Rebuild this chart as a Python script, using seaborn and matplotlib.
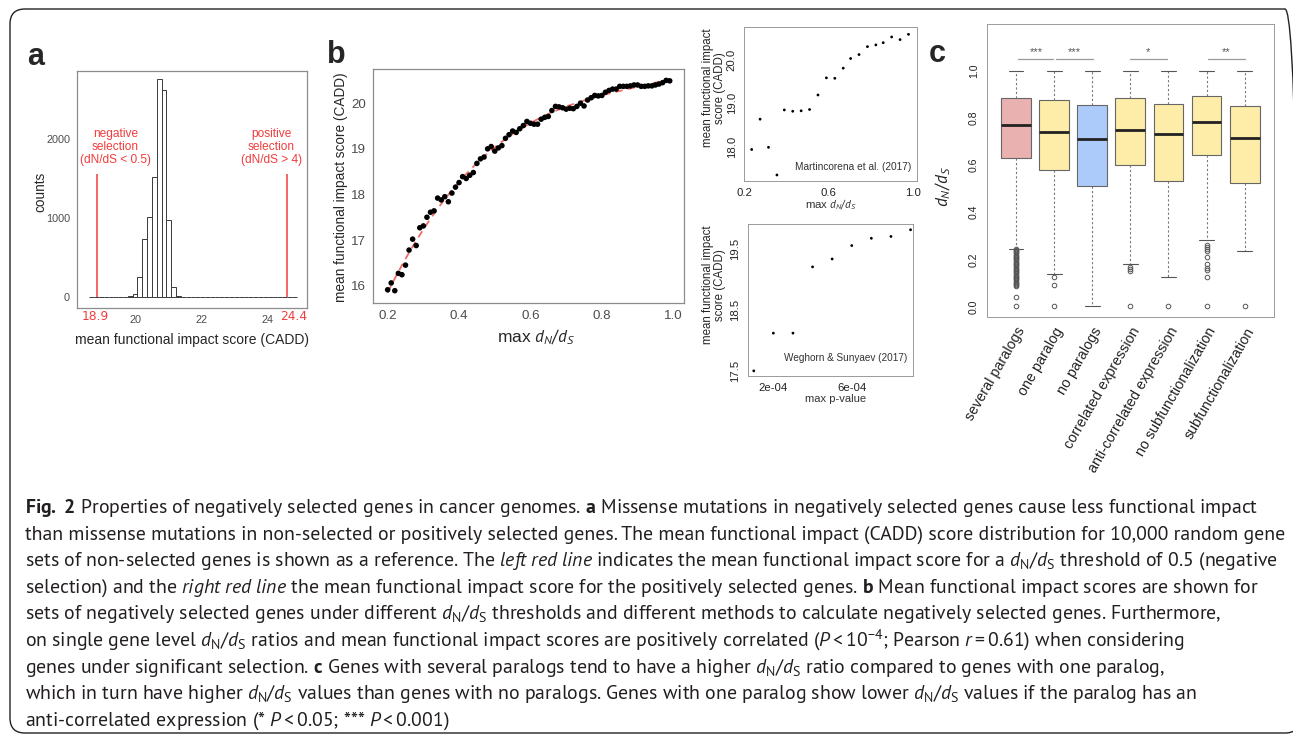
import numpy as np
import pandas as pd
import seaborn as sns
import matplotlib.pyplot as plt
from matplotlib import font_manager
from matplotlib.patches import FancyBboxPatch
from matplotlib.transforms import IdentityTransform

W, H = 1293, 736

# ---------------- data ----------------
# a : CADD score distribution of random gene sets
hist_start = 18.61
hist_binwidth = 0.146
hist_counts = [0] * 8 + [10, 38, 250, 733, 1013, 1521, 2754, 2623, 970, 127, 10] + [0] * 24
neg_line_x = 18.85
pos_line_x = 24.6
red_line_top = 1560
red_labels = ["18.9", "24.4"]
red_label_x = [18.8, 24.8]

# b : mean CADD vs max dN/dS threshold
b_x = [0.20, 0.21, 0.22, 0.23, 0.24, 0.25, 0.26, 0.27, 0.28, 0.29,
       0.30, 0.31, 0.32, 0.33, 0.34, 0.35, 0.36, 0.37, 0.38, 0.39,
       0.40, 0.41, 0.42, 0.43, 0.44, 0.45, 0.46, 0.47, 0.48, 0.49,
       0.50, 0.51, 0.52, 0.53, 0.54, 0.55, 0.56, 0.57, 0.58, 0.59,
       0.60, 0.61, 0.62, 0.63, 0.64, 0.65, 0.66, 0.67, 0.68, 0.69,
       0.70, 0.71, 0.72, 0.73, 0.74, 0.75, 0.76, 0.77, 0.78, 0.79,
       0.80, 0.81, 0.82, 0.83, 0.84, 0.85, 0.86, 0.87, 0.88, 0.89,
       0.90, 0.91, 0.92, 0.93, 0.94, 0.95, 0.96, 0.97, 0.98, 0.99]
b_y = [15.91, 16.06, 15.89, 16.27, 16.24, 16.45, 16.78, 17.02, 16.88, 17.27,
       17.31, 17.50, 17.61, 17.64, 17.92, 17.88, 17.95, 17.84, 18.03, 18.16,
       18.26, 18.39, 18.35, 18.42, 18.48, 18.68, 18.78, 18.82, 19.00, 19.05,
       18.95, 19.02, 19.07, 19.23, 19.31, 19.39, 19.36, 19.44, 19.51, 19.60,
       19.56, 19.54, 19.54, 19.65, 19.69, 19.71, 19.84, 19.93, 19.92, 19.90,
       19.87, 19.89, 19.88, 19.93, 20.00, 19.94, 20.07, 20.12, 20.17, 20.16,
       20.17, 20.24, 20.28, 20.31, 20.31, 20.37, 20.37, 20.37, 20.38, 20.40,
       20.40, 20.37, 20.37, 20.38, 20.38, 20.40, 20.42, 20.45, 20.50, 20.49]

# b inset 1 : Martincorena et al.
m_x = [0.235, 0.275, 0.315, 0.355, 0.39, 0.43, 0.47, 0.51, 0.55, 0.59,
       0.63, 0.67, 0.705, 0.745, 0.785, 0.825, 0.86, 0.90, 0.94, 0.98]
m_y = [17.95, 18.64, 18.00, 17.37, 18.85, 18.82, 18.83, 18.86, 19.19, 19.58,
       19.57, 19.80, 20.02, 20.11, 20.29, 20.33, 20.38, 20.51, 20.45, 20.57]

# b inset 2 : Weghorn & Sunyaev
w_x = [1e-4, 2e-4, 3e-4, 4e-4, 5e-4, 6e-4, 7e-4, 8e-4, 9e-4]
w_y = [17.50, 18.12, 18.12, 19.21, 19.34, 19.56, 19.68, 19.71, 19.82]

# c : dN/dS by paralog group
groups = ["several paralogs", "one paralog", "no paralogs", "correlated expression",
          "anti-correlated expression", "no subfunctionalization", "subfunctionalization"]
box_colors = ["#e9b1af", "#fdeda8", "#adcbfa", "#fdeda8", "#fdeda8", "#fdeda8", "#fdeda8"]
q1 = [0.628, 0.577, 0.511, 0.599, 0.533, 0.640, 0.523]
med = [0.768, 0.740, 0.709, 0.749, 0.733, 0.782, 0.716]
q3 = [0.883, 0.873, 0.856, 0.883, 0.859, 0.890, 0.849]
whis_lo = [0.2435, 0.136, 0.0, 0.178, 0.123, 0.283, 0.235]
whis_hi = [1.0, 1.0, 1.0, 1.0, 1.0, 1.0, 0.998]
fliers = [
    [0.245, 0.24, 0.235, 0.23, 0.225, 0.22, 0.215, 0.21, 0.205, 0.20, 0.195, 0.19,
     0.185, 0.18, 0.175, 0.17, 0.165, 0.16, 0.155, 0.15, 0.145, 0.14, 0.135, 0.13,
     0.125, 0.12, 0.115, 0.11, 0.105, 0.10, 0.095, 0.09, 0.085, 0.042, 0.0],
    [0.125, 0.092, 0.0],
    [],
    [0.167, 0.158, 0.150, 0.0],
    [0.0],
    [0.262, 0.252, 0.245, 0.235, 0.21, 0.18, 0.165, 0.155, 0.125, 0.0],
    [0.0],
]
sig_pairs = [(1.06, 1.98), (2.06, 3.02), (4.0, 4.95), (6.05, 7.0)]
sig_stars = ["***", "***", "*", "**"]

caption_lines = [
    r"$\mathbf{Fig.\ 2}$ Properties of negatively selected genes in cancer genomes. $\mathbf{a}$ Missense mutations in negatively selected genes cause less functional impact",
    r"than missense mutations in non-selected or positively selected genes. The mean functional impact (CADD) score distribution for 10,000 random gene",
    r"sets of non-selected genes is shown as a reference. The $\mathit{left\ red\ line}$ indicates the mean functional impact score for a $d_{\mathrm{N}}/d_{\mathrm{S}}$ threshold of 0.5 (negative",
    r"selection) and the $\mathit{right\ red\ line}$ the mean functional impact score for the positively selected genes. $\mathbf{b}$ Mean functional impact scores are shown for",
    r"sets of negatively selected genes under different $d_{\mathrm{N}}/d_{\mathrm{S}}$ thresholds and different methods to calculate negatively selected genes. Furthermore,",
    r"on single gene level $d_{\mathrm{N}}/d_{\mathrm{S}}$ ratios and mean functional impact scores are positively correlated ($P<10^{-4}$; Pearson $r=0.61$) when considering",
    r"genes under significant selection. $\mathbf{c}$ Genes with several paralogs tend to have a higher $d_{\mathrm{N}}/d_{\mathrm{S}}$ ratio compared to genes with one paralog,",
    r"which in turn have higher $d_{\mathrm{N}}/d_{\mathrm{S}}$ values than genes with no paralogs. Genes with one paralog show lower $d_{\mathrm{N}}/d_{\mathrm{S}}$ values if the paralog has an",
    r"anti-correlated expression (* $P<0.05$; *** $P<0.001$)",
]
# right end (pixels) of each caption line in the reference
caption_ends = [1268, 1276, 1268, 1273, 1281, 1253, 1233, 1267, 470]

# ---------------- style ----------------
sns.set_style("white")
avail = {f.name for f in font_manager.fontManager.ttflist}
plot_font = "Liberation Sans" if "Liberation Sans" in avail else "DejaVu Sans"
cap_font = next((f for f in ["PT Sans", "Noto Sans", "Lato", "Open Sans"] if f in avail), "DejaVu Sans")
plt.rcParams["font.family"] = [plot_font, "DejaVu Sans"]
plt.rcParams["mathtext.fontset"] = "custom"
plt.rcParams["mathtext.rm"] = cap_font
plt.rcParams["mathtext.it"] = cap_font + ":italic"
plt.rcParams["mathtext.bf"] = cap_font + ":bold"

fig = plt.figure(figsize=(W / 100, H / 100), dpi=100)
fig.patch.set_facecolor("white")


def px_axes(l, t, r, b):
    return fig.add_axes([l / W, 1 - b / H, (r - l) / W, (b - t) / H])


def px_text(x, y, s, **kw):
    return fig.text(x / W, 1 - y / H, s, **kw)


def gg_frame(ax, size):
    for sp in ax.spines.values():
        sp.set_color("#8c8c8c")
        sp.set_linewidth(0.9)
    ax.tick_params(length=3, width=0.7, color="#8c8c8c", labelcolor="#4d4d4d", labelsize=size, pad=2)


def base_frame(ax, size):
    for sp in ax.spines.values():
        sp.set_color("#9a9a9a")
        sp.set_linewidth(0.7)
    ax.tick_params(length=3.5, width=0.6, color="#888888", labelcolor="#222222", labelsize=size, pad=2)


# ---------------- panel a ----------------
ax_a = px_axes(77, 71, 307, 308)
edges = [hist_start + hist_binwidth * k for k in range(len(hist_counts) + 1)]
hist_df = pd.DataFrame({"score": [(edges[k] + edges[k + 1]) / 2 for k in range(len(hist_counts))],
                        "n": hist_counts})
sns.histplot(data=hist_df, x="score", weights="n", bins=edges, ax=ax_a, color="white",
             edgecolor="#3a3a3a", linewidth=0.7, alpha=1)
red = "#f23c3c"
ax_a.vlines([neg_line_x, pos_line_x], 0, red_line_top, color=red, lw=1.1)
ax_a.set_xlim(18.24, 25.2)
ax_a.set_ylim(-139, 2860)
ax_a.set_xticks([20, 22, 24])
ax_a.set_yticks([0, 1000, 2000])
ax_a.set_xlabel("")
ax_a.set_ylabel("")
gg_frame(ax_a, 7.8)
for xv, lab in zip(red_label_x, red_labels):
    ax_a.text(xv, -0.036, lab, transform=ax_a.get_xaxis_transform(), color=red,
              ha="center", va="center", fontsize=8.8, family="DejaVu Sans")
ax_a.text(19.4, 1899, "negative\nselection\n(dN/dS < 0.5)", color=red, ha="center", va="center",
          fontsize=8.6, linespacing=1.15)
ax_a.text(24.12, 1899, "positive\nselection\n(dN/dS > 4)", color=red, ha="center", va="center",
          fontsize=8.6, linespacing=1.15)
px_text(40, 192, "counts", rotation=90, ha="center", va="center", fontsize=9.8)
px_text(192, 340, "mean functional impact score (CADD)", ha="center", va="center", fontsize=10)

# ---------------- panel b ----------------
ax_b = px_axes(373, 69, 684, 303)
sns.regplot(x=b_x, y=b_y, order=3, ci=None, scatter=False, ax=ax_b, truncate=True,
            line_kws=dict(color="#f26b63", lw=1.3, ls=(0, (4, 3)), zorder=2))
sns.scatterplot(x=b_x, y=b_y, ax=ax_b, color="black", s=16, edgecolor="none", zorder=3)
ax_b.set_xlim(0.159, 1.03)
ax_b.set_ylim(15.62, 20.75)
ax_b.set_xticks([0.2, 0.4, 0.6, 0.8, 1.0])
ax_b.set_yticks([16, 17, 18, 19, 20])
gg_frame(ax_b, 9.6)
px_text(341, 187, "mean functional impact score (CADD)", rotation=90, ha="center", va="center", fontsize=9.8)
px_text(536, 337, r"max $d_N/d_S$", ha="center", va="center", fontsize=12.5)

# inset 1
ax_m = px_axes(744.3, 27.3, 916.7, 180.7)
sns.scatterplot(x=m_x, y=m_y, ax=ax_m, color="black", s=4, edgecolor="none")
ax_m.set_xlim(0.203, 1.019)
ax_m.set_ylim(17.24, 20.73)
ax_m.set_xticks([0.2, 0.4, 0.6, 0.8, 1.0], ["0.2", "", "0.6", "", "1.0"])
ax_m.set_yticks([17.5, 18.0, 18.5, 19.0, 19.5, 20.0, 20.5], ["", "18.0", "", "19.0", "", "20.0", ""])
base_frame(ax_m, 8.2)
ax_m.tick_params(axis="y", labelrotation=90)
for t in ax_m.get_yticklabels():
    t.set_va("center")
ax_m.text(0.97, 0.09, "Martincorena et al. (2017)", transform=ax_m.transAxes, ha="right",
          va="center", fontsize=7.3, color="#333333")
px_text(714, 88, "mean functional impact\nscore (CADD)", rotation=90, ha="center", va="center",
        fontsize=8.3, linespacing=1.0)
px_text(831, 205, r"max $d_N/d_S$", ha="center", va="center", fontsize=8.2, color="#333333")

# inset 2
ax_w = px_axes(747.7, 224.3, 912.7, 375.7)
sns.scatterplot(x=w_x, y=w_y, ax=ax_w, color="black", s=4, edgecolor="none")
ax_w.set_xlim(0.69e-4, 9.11e-4)
ax_w.set_ylim(17.42, 19.91)
ax_w.set_xticks([2e-4, 4e-4, 6e-4, 8e-4], ["2e-04", "", "6e-04", ""])
ax_w.set_yticks([17.5, 18.0, 18.5, 19.0, 19.5], ["17.5", "", "18.5", "", "19.5"])
base_frame(ax_w, 8.2)
ax_w.tick_params(axis="y", labelrotation=90)
for t in ax_w.get_yticklabels():
    t.set_va("center")
ax_w.text(0.97, 0.12, "Weghorn & Sunyaev (2017)", transform=ax_w.transAxes, ha="right",
          va="center", fontsize=7.2, color="#333333")
px_text(714, 285, "mean functional impact\nscore (CADD)", rotation=90, ha="center", va="center",
        fontsize=8.3, linespacing=1.0)
px_text(836, 399, "max p-value", ha="center", va="center", fontsize=8, color="#333333")

# ---------------- panel c ----------------
ax_c = px_axes(986.7, 24.3, 1274, 317.3)
stats = [dict(med=m, q1=a, q3=b, whislo=lo, whishi=hi, fliers=f)
         for m, a, b, lo, hi, f in zip(med, q1, q3, whis_lo, whis_hi, fliers)]
bp = ax_c.bxp(stats, positions=range(1, 8), widths=0.78, capwidths=0.39, patch_artist=True,
              boxprops=dict(edgecolor="#666666", lw=0.8),
              whiskerprops=dict(color="#777777", lw=0.8, ls=(0, (2, 2))),
              capprops=dict(color="#555555", lw=0.8),
              medianprops=dict(color="#222222", lw=2),
              flierprops=dict(marker="o", mfc="none", mec="#555555", ms=3.3, mew=0.7))
for patch, col in zip(bp["boxes"], box_colors):
    patch.set_facecolor(col)
ax_c.set_xlim(0.23, 7.77)
ax_c.set_ylim(-0.046, 1.196)
ax_c.set_xticks(range(1, 8))
ax_c.set_yticks([0, 0.2, 0.4, 0.6, 0.8, 1.0], ["0.0", "0.2", "0.4", "0.6", "0.8", "1.0"])
base_frame(ax_c, 7.6)
ax_c.set_xticklabels(groups, rotation=60, ha="right", va="top", rotation_mode="anchor",
                     fontsize=10.3, color="#222222")
ax_c.tick_params(axis="y", labelrotation=90)
for t in ax_c.get_yticklabels():
    t.set_va("center")
for (x0, x1), st in zip(sig_pairs, sig_stars):
    ax_c.plot([x0, x1], [1.05, 1.05], color="#9a9a9a", lw=0.9)
    ax_c.text((x0 + x1) / 2, 1.08, st, ha="center", va="center", fontsize=8, color="#555555")
px_text(943, 187, r"$d_N/d_S$", rotation=90, ha="center", va="center", fontsize=12.5)

# ---------------- panel letters ----------------
for x, y, s in [(36, 57, "a"), (336, 55, "b"), (937, 54, "c")]:
    px_text(x, y, s, ha="center", va="center", fontsize=22, fontweight="bold")

# ---------------- caption ----------------
cap_texts = []
for i, line in enumerate(caption_lines):
    cap_texts.append(px_text(25, 513 + 26.6 * i, line, ha="left", va="baseline",
                             fontsize=12, family=cap_font, color="#231f20"))
renderer = fig.canvas.get_renderer()
widths = [t.get_window_extent(renderer).width for t in cap_texts]
ratios = [(end - 25) / w for end, w in zip(caption_ends, widths)]
scale = min(float(np.median(ratios)), min((1283 - 25) / w for w in widths))
for t in cap_texts:
    t.set_fontsize(12 * scale)

# ---------------- frame ----------------
frame = FancyBboxPatch((10, 3), 1290, 724, boxstyle="round,pad=0,rounding_size=15",
                       transform=IdentityTransform(), fill=False, ec="#222222", lw=1.0)
fig.add_artist(frame)

fig.savefig("out.png", dpi=100)
